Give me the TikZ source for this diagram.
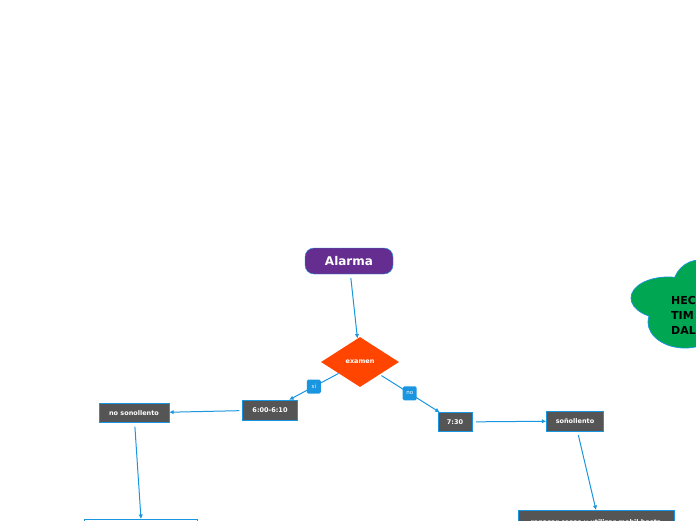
\documentclass[tikz,border=0pt]{standalone}
\usepackage{fontspec}
\setmainfont{DejaVu Sans}
\usetikzlibrary{shapes.geometric,arrows.meta}
\definecolor{morado}{HTML}{662D91}
\definecolor{naranja}{HTML}{FF4500}
\definecolor{gris}{HTML}{555555}
\definecolor{azul}{HTML}{1A95DF}
\definecolor{verde}{HTML}{00A651}
\tikzset{
	caja/.style={draw=azul, fill=gris, text=white, font=\fontsize{6.5}{8}\selectfont\bfseries, inner sep=0pt},
	etiqueta/.style={fill=azul, text=white, font=\fontsize{5.5}{6}\selectfont, rounded corners=1.5pt, minimum size=14pt, inner sep=0pt},
	flecha/.style={draw=azul, line width=1pt, -{Latex[length=4.5pt,width=4.5pt]}, shorten <=4pt}
}
\begin{document}
		\begin{tikzpicture}[x=1pt, y=-1pt]
			\useasboundingbox (0,0) rectangle (696,520);
			\clip (0,0) rectangle (696,520);
			% Nodo principal y decisión
			\node[draw=azul, fill=morado, text=white, rounded corners=9pt, minimum width=88pt, minimum height=26pt, font=\fontsize{12}{14}\selectfont\bfseries] (alarma) at (349,261) {Alarma};
			\node[diamond, aspect=1.56, fill=naranja, text=white, minimum width=78pt, minimum height=50pt, inner sep=0pt, font=\fontsize{6.5}{8}\selectfont\bfseries] (examen) at (360,362) {examen};
			% Cajas de horas y estados
			\node[caja, minimum width=55pt, minimum height=20pt] (hora600) at (270,410) {6:00-6:10};
			\node[caja, minimum width=34pt, minimum height=19pt] (hora730) at (455,422) {7:30};
			\node[caja, minimum width=70pt, minimum height=19pt] (nosono) at (134,413) {no sonollento};
			\node[caja, minimum width=57pt, minimum height=20pt] (sonol) at (575,421) {soñollento};
			% Cajas cortadas por el borde inferior
			\node[caja, anchor=north, minimum width=156pt, minimum height=25pt] (repasar) at (596,510) {repasar cosas y utilizar mobil hasta};
			\node[draw=azul, anchor=north, minimum width=113pt, minimum height=20pt, inner sep=0pt] (abajo) at (141,519) {};
			% Conectores
			\draw[flecha] (alarma) -- (examen);
			\draw[flecha, shorten <=0pt] (examen) -- (hora600) node[midway, etiqueta] {sí};
			\draw[flecha, shorten <=2pt] (examen) -- (hora730) node[midway, etiqueta] {no};
			\draw[flecha, shorten <=3pt] (hora600) -- (nosono);
			\draw[flecha] (hora730) -- (sonol);
			\draw[flecha] (sonol) -- (repasar.north);
			\draw[flecha] (nosono) -- (abajo.north);
			% Nube verde a la derecha
			\foreach \cx/\cy/\rx/\ry in {668/298/37/21, 700/287/27/27, 685/322/37/26}
				\filldraw[fill=verde, draw=azul, line width=0.8pt] (\cx,\cy) ellipse [x radius=\rx, y radius=\ry];
			\foreach \cx/\cy/\rx/\ry in {668/298/37/21, 700/287/27/27, 685/322/37/26}
				\fill[verde] (\cx,\cy) ellipse [x radius=\rx-0.6, y radius=\ry-0.6];
			\node[anchor=west, align=left, inner sep=0pt, font=\fontsize{11}{15}\selectfont\bfseries] (nube) at (671,315) {HEC\\TIM\\DAL};
		\end{tikzpicture}
\end{document}
